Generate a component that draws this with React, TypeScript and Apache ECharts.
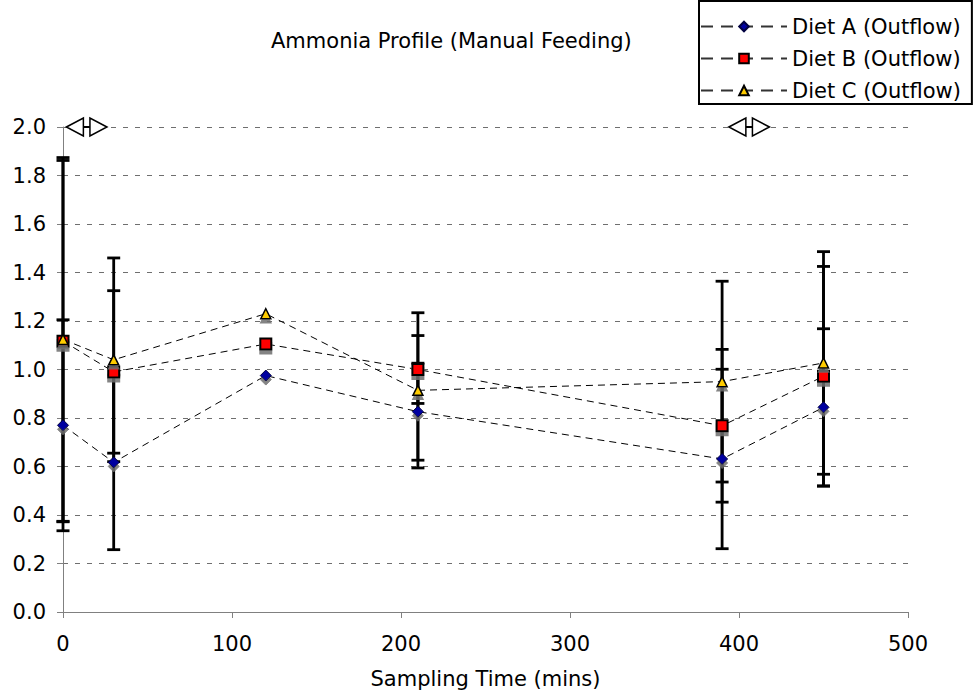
import React, { useEffect, useRef } from "react";
import * as echarts from "echarts";

const timePoints = [0, 30, 120, 210, 390, 450];
const dietA = [0.77, 0.617, 0.975, 0.826, 0.631, 0.844];
const dietB = [1.117, 0.99, 1.105, 1.0, 0.768, 0.972];
const dietC = [1.124, 1.04, 1.23, 0.914, 0.95, 1.027];
const errA = [0.435, 0.36, null, 0.2, 0.37, 0.324];
const errB = [0.745, 0.335, null, 0.14, 0.315, 0.453];
const errC = [0.75, 0.42, null, 0.32, 0.414, 0.459];
const seriesNames = ["Diet A (Outflow)", "Diet B (Outflow)", "Diet C (Outflow)"];
const feedingWindows = [
  [2, 26],
  [394, 418],
];

const FONT = "DejaVu Sans";

function pairs(values: number[]) {
  return timePoints.map((t, i) => [t, values[i]]);
}

function errData(values: number[], errs: (number | null)[]) {
  const out: number[][] = [];
  timePoints.forEach((t, i) => {
    const e = errs[i];
    if (e !== null && e !== undefined) out.push([t, values[i], e]);
  });
  return out;
}

function errorSeries(values: number[], errs: (number | null)[]) {
  return {
    type: "custom",
    z: 1,
    clip: false,
    silent: true,
    encode: { x: 0, y: 1 },
    data: errData(values, errs),
    renderItem: (params: any, api: any) => {
      const x = api.value(0);
      const m = api.value(1);
      const e = api.value(2);
      const top = api.coord([x, m + e]);
      const bot = api.coord([x, m - e]);
      const hw = 6.5;
      const st = { stroke: "#000", lineWidth: 2.8, fill: null };
      return {
        type: "group",
        children: [
          { type: "line", shape: { x1: top[0], y1: top[1], x2: bot[0], y2: bot[1] }, style: st },
          { type: "line", shape: { x1: top[0] - hw, y1: top[1], x2: top[0] + hw, y2: top[1] }, style: st },
          { type: "line", shape: { x1: bot[0] - hw, y1: bot[1], x2: bot[0] + hw, y2: bot[1] }, style: st },
        ],
      };
    },
  };
}

export default function App() {
  const ref = useRef<HTMLDivElement>(null);

  useEffect(() => {
    if (!ref.current) return;
    const chart = echarts.init(ref.current, null, { renderer: "svg" });

    const shadow = {
      shadowColor: "rgba(110,110,110,0.85)",
      shadowBlur: 0,
      shadowOffsetX: 0,
      shadowOffsetY: 4,
    };
    const lineStyle = { color: "#000", width: 1, type: [7, 5] as any };

    const option: any = {
      animation: false,
      backgroundColor: "#fff",
      textStyle: { fontFamily: FONT },
      title: {
        text: "Ammonia Profile (Manual Feeding)",
        left: 271,
        top: 30,
        padding: 0,
        textStyle: { fontFamily: FONT, fontSize: 21, fontWeight: "normal", color: "#000" },
      },
      legend: {
        data: seriesNames,
        orient: "vertical",
        left: 699,
        top: 1,
        padding: [15, 11, 3, 1],
        itemGap: 11,
        itemWidth: 86,
        itemHeight: 12,
        borderColor: "#000",
        borderWidth: 2,
        backgroundColor: "#fff",
        lineStyle: { type: [12, 8], color: "#333" },
        textStyle: { fontFamily: FONT, fontSize: 21, color: "#000" },
      },
      grid: { left: 63, right: 68, top: 127, bottom: 79, containLabel: false },
      xAxis: {
        type: "value",
        min: 0,
        max: 500,
        interval: 100,
        name: "Sampling Time (mins)",
        nameLocation: "middle",
        nameGap: 56,
        nameTextStyle: { fontFamily: FONT, fontSize: 21, color: "#000" },
        axisLine: { show: true, onZero: false, lineStyle: { color: "#808080", width: 1 } },
        axisTick: { show: true, length: 6, lineStyle: { color: "#808080" } },
        axisLabel: { fontFamily: FONT, fontSize: 21, color: "#000", margin: 21 },
        splitLine: { show: false },
      },
      yAxis: {
        type: "value",
        min: 0,
        max: 2,
        interval: 0.2,
        axisLine: { show: true, onZero: false, lineStyle: { color: "#808080", width: 1 } },
        axisTick: { show: true, length: 6, lineStyle: { color: "#808080" } },
        axisLabel: {
          fontFamily: FONT,
          fontSize: 21,
          color: "#000",
          margin: 17,
          formatter: (v: number) => v.toFixed(1),
        },
        splitLine: { show: true, lineStyle: { color: "#6f6f6f", width: 1, type: [5, 7] } },
      },
      series: [
        errorSeries(dietA, errA),
        errorSeries(dietB, errB),
        errorSeries(dietC, errC),
        {
          name: seriesNames[0],
          type: "line",
          z: 3,
          data: pairs(dietA),
          symbol: "diamond",
          symbolSize: 11,
          lineStyle,
          itemStyle: { color: "#0000a0", borderColor: "#000040", borderWidth: 1, ...shadow },
        },
        {
          name: seriesNames[1],
          type: "line",
          z: 3,
          data: pairs(dietB),
          symbol: "rect",
          symbolSize: 11,
          lineStyle,
          itemStyle: { color: "#ff0000", borderColor: "#000", borderWidth: 2, ...shadow },
        },
        {
          name: seriesNames[2],
          type: "line",
          z: 3,
          data: pairs(dietC),
          symbol: "triangle",
          symbolSize: 10,
          lineStyle,
          itemStyle: { color: "#ffcc00", borderColor: "#000", borderWidth: 1.5, ...shadow },
        },
        {
          type: "custom",
          z: 4,
          clip: false,
          silent: true,
          encode: { x: [0, 1] },
          data: feedingWindows,
          renderItem: (params: any, api: any) => {
            const p1 = api.coord([api.value(0), 2]);
            const p2 = api.coord([api.value(1), 2]);
            const y = p1[1];
            const w = 17;
            const h = 9;
            const st = { stroke: "#000", lineWidth: 1.5, fill: "#fff" };
            return {
              type: "group",
              children: [
                {
                  type: "line",
                  shape: { x1: p1[0] + w, y1: y, x2: p2[0] - w, y2: y },
                  style: { stroke: "#000", lineWidth: 2 },
                },
                {
                  type: "polygon",
                  shape: { points: [[p1[0], y], [p1[0] + w, y - h], [p1[0] + w, y + h]] },
                  style: st,
                },
                {
                  type: "polygon",
                  shape: { points: [[p2[0], y], [p2[0] - w, y - h], [p2[0] - w, y + h]] },
                  style: st,
                },
              ],
            };
          },
        },
      ],
    };

    chart.setOption(option);
    return () => chart.dispose();
  }, []);

  return (
    <div
      ref={ref}
      style={{ position: "fixed", left: 0, top: 0, width: 976, height: 694, background: "#fff" }}
    />
  );
}
